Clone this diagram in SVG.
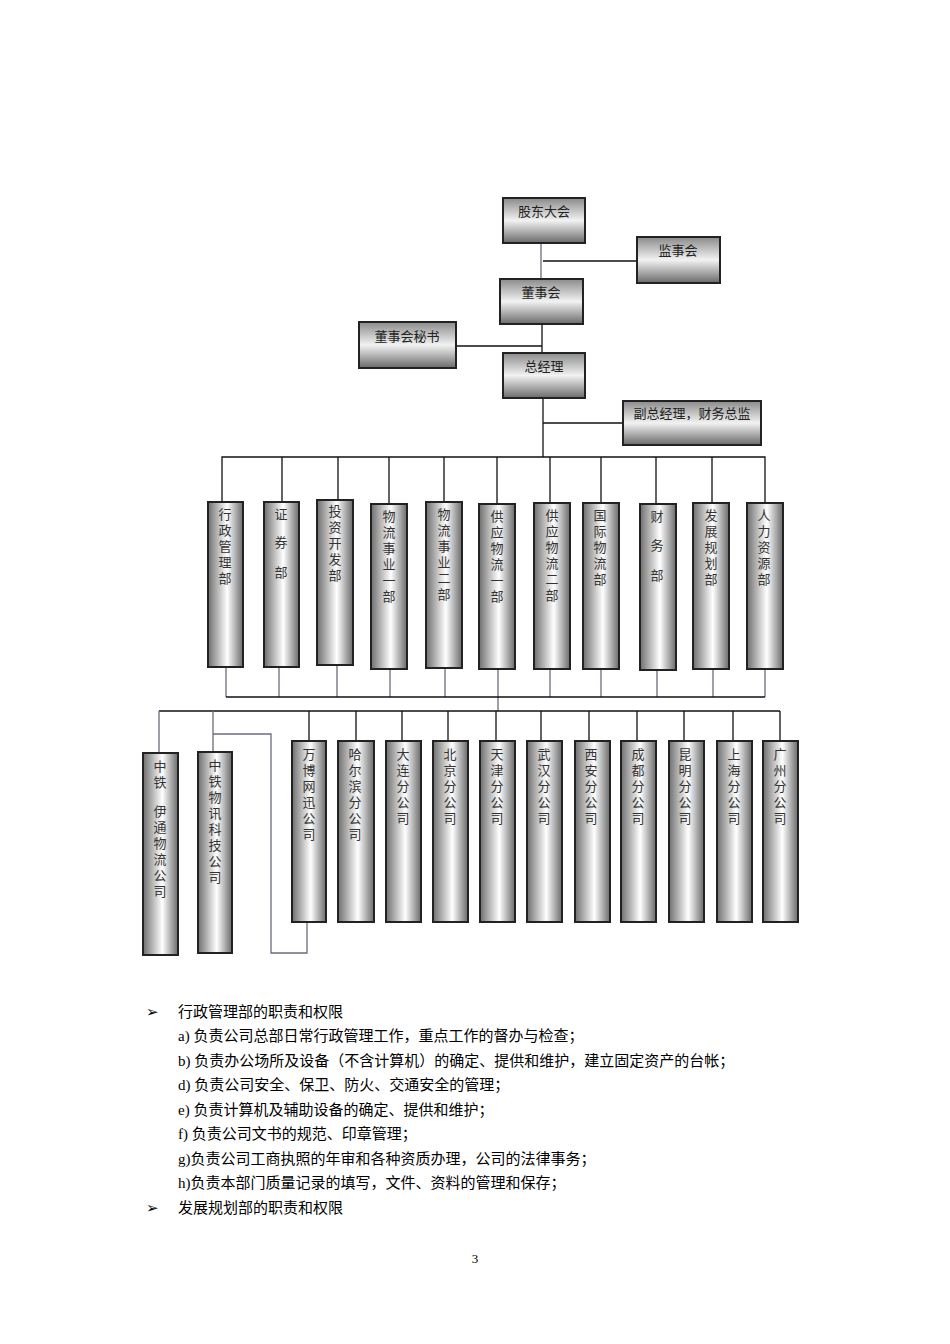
<svg xmlns="http://www.w3.org/2000/svg" width="950" height="1344" viewBox="0 0 950 1344">
<defs>
<linearGradient id="gv" x1="0" y1="0" x2="0" y2="1"><stop offset="0" stop-color="#8a8a8a"/><stop offset="0.5" stop-color="#f2f2f2"/><stop offset="1" stop-color="#6a6a6a"/></linearGradient>
<linearGradient id="gh" x1="0" y1="0" x2="1" y2="0"><stop offset="0" stop-color="#6e6e6e"/><stop offset="0.55" stop-color="#ffffff"/><stop offset="1" stop-color="#6a6a6a"/></linearGradient>
<style>
.b{fill:url(#gv);stroke:#222;stroke-width:2}
.c{fill:url(#gh);stroke:#222;stroke-width:2}
.t{font-family:"Liberation Serif","Noto Sans CJK SC",serif;font-size:13px;fill:#222;text-anchor:middle}
.v{font-family:"Liberation Serif","Noto Sans CJK SC",serif;font-size:13px;fill:#333;text-anchor:middle}
.p{font-family:"Liberation Serif","Noto Sans CJK SC",serif;font-size:15px;fill:#000}
.l{stroke:#111;stroke-width:1.3;fill:none}
.g{stroke:#6e6a80;stroke-width:1.3;fill:none}
</style>
</defs>
<g id="connectors">
<line class="g" x1="541" y1="243" x2="541" y2="279"/>
<line class="l" x1="543" y1="261" x2="637" y2="261"/>
<line class="l" x1="542" y1="324" x2="542" y2="353"/>
<line class="l" x1="456" y1="346" x2="542" y2="346"/>
<line class="l" x1="543" y1="398" x2="543" y2="457"/>
<line class="l" x1="543" y1="423" x2="623" y2="423"/>
<path class="l" d="M222 502V457H765V503M282 457V502M338 457V500M389 457V504M444 457V502M497 457V504M550 457V503M601 457V503M656 457V504M712 457V503"/>
<path class="g" d="M226 667V697M279 667V697M337 665V697M390 669V697M445 668V697M498 669V711M550 669V697M601 669V697M657 670V697M713 669V697M765 669V697"/>
<line class="l" x1="226" y1="697" x2="765" y2="697"/>
<line class="l" x1="159" y1="711" x2="780" y2="711"/>
<path class="g" d="M159 711V753M213 711V752"/>
<path class="l" d="M309 711V741M356 711V741M402 711V741M448 711V741M496 711V741M541 711V741M589 711V741M637 711V741M684 711V741M733 711V741M780 711V741"/>
<path class="g" d="M213 734H271V953H307V922"/>
</g>
<g id="n-gudong"><rect class="b" x="503" y="198" width="82" height="45"/><text class="t" x="544" y="216">股东大会</text></g>
<g id="n-jianshi"><rect class="b" x="637" y="237" width="83" height="46"/><text class="t" x="678" y="255">监事会</text></g>
<g id="n-dongshi"><rect class="b" x="500" y="279" width="83" height="45"/><text class="t" x="541" y="297">董事会</text></g>
<g id="n-mishu"><rect class="b" x="359" y="322" width="97" height="46"/><text class="t" x="407" y="341">董事会秘书</text></g>
<g id="n-zongjingli"><rect class="b" x="503" y="353" width="82" height="45"/><text class="t" x="544" y="371">总经理</text></g>
<g id="n-fuzong"><rect class="b" x="623" y="401" width="138" height="44"/><text class="t" x="692" y="418">副总经理，财务总监</text></g>
<g id="d1"><rect class="c" x="208" y="502" width="35" height="165"/><text class="v" x="225"><tspan x="225" y="519">行</tspan><tspan x="225" y="535">政</tspan><tspan x="225" y="551">管</tspan><tspan x="225" y="567">理</tspan><tspan x="225" y="583">部</tspan></text></g>
<g id="d2"><rect class="c" x="264" y="502" width="35" height="165"/><text class="v"><tspan x="281" y="519">证</tspan><tspan x="281" y="547">券</tspan><tspan x="281" y="577">部</tspan></text></g>
<g id="d3"><rect class="c" x="317" y="500" width="36" height="165"/><text class="v"><tspan x="335" y="516">投</tspan><tspan x="335" y="532">资</tspan><tspan x="335" y="548">开</tspan><tspan x="335" y="564">发</tspan><tspan x="335" y="580">部</tspan></text></g>
<g id="d4"><rect class="c" x="371" y="504" width="36" height="165"/><text class="v"><tspan x="389" y="521">物</tspan><tspan x="389" y="537">流</tspan><tspan x="389" y="553">事</tspan><tspan x="389" y="569">业</tspan><tspan x="389" y="585">一</tspan><tspan x="389" y="601">部</tspan></text></g>
<g id="d5"><rect class="c" x="426" y="502" width="36" height="166"/><text class="v"><tspan x="444" y="519">物</tspan><tspan x="444" y="535">流</tspan><tspan x="444" y="551">事</tspan><tspan x="444" y="567">业</tspan><tspan x="444" y="583">二</tspan><tspan x="444" y="599">部</tspan></text></g>
<g id="d6"><rect class="c" x="479" y="504" width="36" height="165"/><text class="v"><tspan x="497" y="521">供</tspan><tspan x="497" y="537">应</tspan><tspan x="497" y="553">物</tspan><tspan x="497" y="569">流</tspan><tspan x="497" y="585">一</tspan><tspan x="497" y="601">部</tspan></text></g>
<g id="d7"><rect class="c" x="534" y="503" width="36" height="166"/><text class="v"><tspan x="552" y="520">供</tspan><tspan x="552" y="536">应</tspan><tspan x="552" y="552">物</tspan><tspan x="552" y="568">流</tspan><tspan x="552" y="584">二</tspan><tspan x="552" y="600">部</tspan></text></g>
<g id="d8"><rect class="c" x="583" y="503" width="36" height="166"/><text class="v"><tspan x="600" y="520">国</tspan><tspan x="600" y="536">际</tspan><tspan x="600" y="552">物</tspan><tspan x="600" y="568">流</tspan><tspan x="600" y="584">部</tspan></text></g>
<g id="d9"><rect class="c" x="640" y="504" width="36" height="166"/><text class="v"><tspan x="657" y="521">财</tspan><tspan x="657" y="550">务</tspan><tspan x="657" y="580">部</tspan></text></g>
<g id="d10"><rect class="c" x="693" y="503" width="36" height="166"/><text class="v"><tspan x="711" y="520">发</tspan><tspan x="711" y="536">展</tspan><tspan x="711" y="552">规</tspan><tspan x="711" y="568">划</tspan><tspan x="711" y="584">部</tspan></text></g>
<g id="d11"><rect class="c" x="747" y="503" width="36" height="166"/><text class="v"><tspan x="764" y="520">人</tspan><tspan x="764" y="536">力</tspan><tspan x="764" y="552">资</tspan><tspan x="764" y="568">源</tspan><tspan x="764" y="584">部</tspan></text></g>
<g id="s1"><rect class="c" x="143" y="753" width="35" height="202"/><text class="v"><tspan x="160" y="771">中</tspan><tspan x="160" y="787">铁</tspan><tspan x="160" y="816">伊</tspan><tspan x="160" y="832">通</tspan><tspan x="160" y="848">物</tspan><tspan x="160" y="864">流</tspan><tspan x="160" y="880">公</tspan><tspan x="160" y="896">司</tspan></text></g>
<g id="s2"><rect class="c" x="198" y="752" width="34" height="201"/><text class="v"><tspan x="215" y="770">中</tspan><tspan x="215" y="786">铁</tspan><tspan x="215" y="802">物</tspan><tspan x="215" y="818">讯</tspan><tspan x="215" y="834">科</tspan><tspan x="215" y="850">技</tspan><tspan x="215" y="866">公</tspan><tspan x="215" y="882">司</tspan></text></g>
<g id="s3"><rect class="c" x="292" y="741" width="34" height="181"/><text class="v"><tspan x="309" y="759">万</tspan><tspan x="309" y="775">博</tspan><tspan x="309" y="791">网</tspan><tspan x="309" y="807">迅</tspan><tspan x="309" y="823">公</tspan><tspan x="309" y="839">司</tspan></text></g>
<g id="s4"><rect class="c" x="338" y="741" width="36" height="181"/><text class="v"><tspan x="355" y="759">哈</tspan><tspan x="355" y="775">尔</tspan><tspan x="355" y="791">滨</tspan><tspan x="355" y="807">分</tspan><tspan x="355" y="823">公</tspan><tspan x="355" y="839">司</tspan></text></g>
<g id="s5"><rect class="c" x="386" y="741" width="35" height="181"/><text class="v"><tspan x="403" y="759">大</tspan><tspan x="403" y="775">连</tspan><tspan x="403" y="791">分</tspan><tspan x="403" y="807">公</tspan><tspan x="403" y="823">司</tspan></text></g>
<g id="s6"><rect class="c" x="433" y="741" width="35" height="181"/><text class="v"><tspan x="450" y="759">北</tspan><tspan x="450" y="775">京</tspan><tspan x="450" y="791">分</tspan><tspan x="450" y="807">公</tspan><tspan x="450" y="823">司</tspan></text></g>
<g id="s7"><rect class="c" x="480" y="741" width="35" height="181"/><text class="v"><tspan x="497" y="759">天</tspan><tspan x="497" y="775">津</tspan><tspan x="497" y="791">分</tspan><tspan x="497" y="807">公</tspan><tspan x="497" y="823">司</tspan></text></g>
<g id="s8"><rect class="c" x="527" y="741" width="35" height="181"/><text class="v"><tspan x="544" y="759">武</tspan><tspan x="544" y="775">汉</tspan><tspan x="544" y="791">分</tspan><tspan x="544" y="807">公</tspan><tspan x="544" y="823">司</tspan></text></g>
<g id="s9"><rect class="c" x="575" y="741" width="35" height="181"/><text class="v"><tspan x="591" y="759">西</tspan><tspan x="591" y="775">安</tspan><tspan x="591" y="791">分</tspan><tspan x="591" y="807">公</tspan><tspan x="591" y="823">司</tspan></text></g>
<g id="s10"><rect class="c" x="621" y="741" width="35" height="181"/><text class="v"><tspan x="638" y="759">成</tspan><tspan x="638" y="775">都</tspan><tspan x="638" y="791">分</tspan><tspan x="638" y="807">公</tspan><tspan x="638" y="823">司</tspan></text></g>
<g id="s11"><rect class="c" x="669" y="741" width="35" height="181"/><text class="v"><tspan x="685" y="759">昆</tspan><tspan x="685" y="775">明</tspan><tspan x="685" y="791">分</tspan><tspan x="685" y="807">公</tspan><tspan x="685" y="823">司</tspan></text></g>
<g id="s12"><rect class="c" x="717" y="741" width="35" height="181"/><text class="v"><tspan x="734" y="759">上</tspan><tspan x="734" y="775">海</tspan><tspan x="734" y="791">分</tspan><tspan x="734" y="807">公</tspan><tspan x="734" y="823">司</tspan></text></g>
<g id="s13"><rect class="c" x="763" y="741" width="35" height="181"/><text class="v"><tspan x="780" y="759">广</tspan><tspan x="780" y="775">州</tspan><tspan x="780" y="791">分</tspan><tspan x="780" y="807">公</tspan><tspan x="780" y="823">司</tspan></text></g>
<g id="text">
<text class="p" x="146" y="1017">➢</text>
<text class="p" x="178" y="1017">行政管理部的职责和权限</text>
<text class="p" x="178" y="1041">a) 负责公司总部日常行政管理工作，重点工作的督办与检查；</text>
<text class="p" x="178" y="1066">b) 负责办公场所及设备（不含计算机）的确定、提供和维护，建立固定资产的台帐；</text>
<text class="p" x="178" y="1090">d) 负责公司安全、保卫、防火、交通安全的管理；</text>
<text class="p" x="178" y="1115">e) 负责计算机及辅助设备的确定、提供和维护；</text>
<text class="p" x="178" y="1139">f) 负责公司文书的规范、印章管理；</text>
<text class="p" x="178" y="1164">g)负责公司工商执照的年审和各种资质办理，公司的法律事务；</text>
<text class="p" x="178" y="1188">h)负责本部门质量记录的填写，文件、资料的管理和保存；</text>
<text class="p" x="146" y="1213">➢</text>
<text class="p" x="178" y="1213">发展规划部的职责和权限</text>
<text class="p" x="475" y="1263" text-anchor="middle" style="font-size:13px">3</text>
</g>
</svg>
